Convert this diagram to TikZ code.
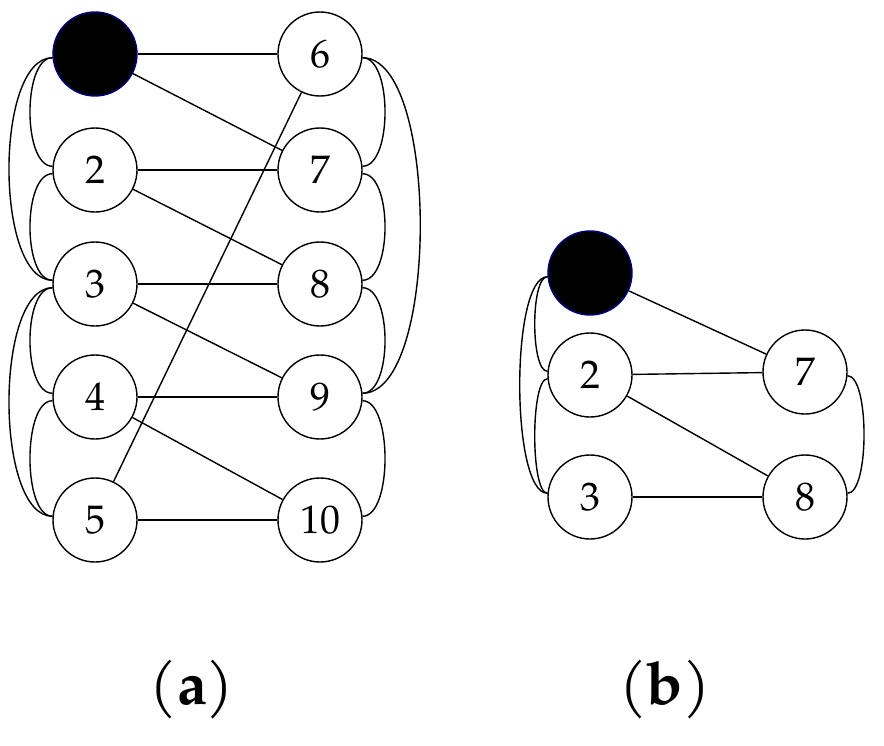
\documentclass[tikz,border=0pt]{standalone}
\usepackage{fontspec}
\setmainfont{TeX Gyre Pagella}
\begin{document}
\begin{tikzpicture}[x=1bp,y=-1bp,
 v/.style={circle,draw,line width=1.4bp,fill=white,minimum size=84bp,inner sep=0pt,font=\fontsize{40}{42}\selectfont},
 blk/.style={circle,draw=blue!50!black,line width=1.4bp,fill=black,minimum size=84bp,inner sep=0pt},
 e/.style={line width=1.4bp},
 lab/.style={font=\fontsize{60}{64}\selectfont}]
\useasboundingbox (0,0) rectangle (884,746);
\newcommand{\larc}[3]{\draw[e] (#1.185) .. controls ([xshift=-#3]#1.185) and ([xshift=-#3]#2.175) .. (#2.175);}
\newcommand{\rarc}[3]{\draw[e] (#1.-5) .. controls ([xshift=#3]#1.-5) and ([xshift=#3]#2.5) .. (#2.5);}
% (a)
\node[blk] (a1) at (95,54) {};
\node[v] (a2) at (95,170) {2};
\node[v] (a3) at (95,284) {3};
\node[v] (a4) at (95,397) {4};
\node[v] (a5) at (95,520) {5};
\node[v] (a6) at (320,54) {6};
\node[v] (a7) at (320,170) {7};
\node[v] (a8) at (320,284) {8};
\node[v] (a9) at (320,397) {9};
\node[v] (a10) at (320,520) {10};
\foreach \a/\b in {a1/a6,a1/a7,a2/a7,a2/a8,a3/a8,a3/a9,a4/a9,a4/a10,a5/a10,a5/a6}
  \draw[e] (\a) -- (\b);
\larc{a1}{a2}{30bp}\larc{a2}{a3}{30bp}\larc{a3}{a4}{30bp}\larc{a4}{a5}{30bp}
\larc{a1}{a3}{58bp}\larc{a3}{a5}{58bp}
\rarc{a6}{a7}{30bp}\rarc{a7}{a8}{30bp}\rarc{a8}{a9}{30bp}\rarc{a9}{a10}{30bp}
\rarc{a6}{a9}{77bp}
% (b)
\node[blk] (b1) at (590,273) {};
\node[v] (b2) at (590,375) {2};
\node[v] (b3) at (590,497) {3};
\node[v] (b7) at (805,372) {7};
\node[v] (b8) at (805,497) {8};
\foreach \a/\b in {b1/b7,b2/b7,b2/b8,b3/b8}
  \draw[e] (\a) -- (\b);
\larc{b1}{b2}{17bp}\larc{b2}{b3}{17bp}\larc{b1}{b3}{37bp}
\rarc{b7}{b8}{22bp}
\node[lab] (la) at (192,690) {(\textbf{a})};
\node[lab] (lb) at (665,690) {(\textbf{b})};
\end{tikzpicture}
\end{document}
